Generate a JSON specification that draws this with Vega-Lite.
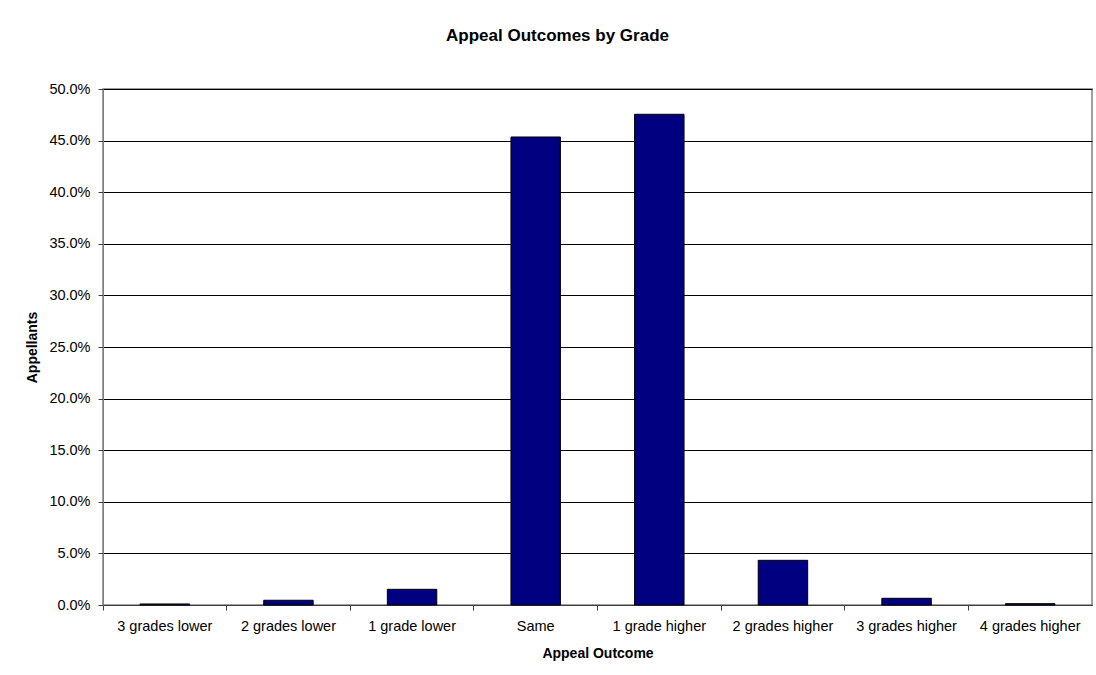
{
  "$schema": "https://vega.github.io/schema/vega-lite/v6.json",
  "autosize": "none",
  "width": 989,
  "height": 516,
  "padding": {"left": 103, "top": 89, "right": 4, "bottom": 70},
  "background": "white",
  "title": {
    "text": "Appeal Outcomes by Grade",
    "font": "Liberation Sans",
    "fontSize": 17,
    "fontWeight": "bold",
    "color": "black",
    "anchor": "middle",
    "dx": -40,
    "offset": 36
  },
  "data": {
    "values": [
      {"outcome": "3 grades lower", "share": 0.001},
      {"outcome": "2 grades lower", "share": 0.0046},
      {"outcome": "1 grade lower", "share": 0.0152},
      {"outcome": "Same", "share": 0.4535},
      {"outcome": "1 grade higher", "share": 0.4755},
      {"outcome": "2 grades higher", "share": 0.0433},
      {"outcome": "3 grades higher", "share": 0.0065},
      {"outcome": "4 grades higher", "share": 0.0013}
    ]
  },
  "mark": {"type": "bar", "fill": "#000080", "stroke": "black", "strokeWidth": 1, "width": {"band": 0.4}},
  "encoding": {
    "x": {
      "field": "outcome",
      "type": "nominal",
      "sort": null,
      "scale": {"paddingInner": 0, "paddingOuter": 0},
      "axis": {
        "title": "Appeal Outcome",
        "labelAngle": 0,
        "bandPosition": 0,
        "labelFont": "Liberation Sans",
        "labelFontSize": 14.5,
        "labelColor": "black",
        "labelPadding": 9,
        "titleFont": "Liberation Sans",
        "titleFontSize": 14,
        "titleFontWeight": "bold",
        "titleColor": "black",
        "titlePadding": 14,
        "domainColor": "#404040",
        "tickColor": "#404040",
        "tickSize": 5,
        "grid": false
      }
    },
    "y": {
      "field": "share",
      "type": "quantitative",
      "scale": {"domain": [0, 0.5], "nice": false},
      "axis": {
        "title": "Appellants",
        "format": ".1%",
        "values": [0, 0.05, 0.1, 0.15, 0.2, 0.25, 0.3, 0.35, 0.4, 0.45, 0.5],
        "labelFont": "Liberation Sans",
        "labelFontSize": 14.5,
        "labelColor": "black",
        "labelPadding": 8,
        "titleFont": "Liberation Sans",
        "titleFontSize": 14,
        "titleFontWeight": "bold",
        "titleColor": "black",
        "titlePadding": 9,
        "domainColor": "#808080",
        "tickColor": "#404040",
        "tickSize": 5,
        "grid": true,
        "gridColor": "black",
        "gridOpacity": 1,
        "gridWidth": 1
      }
    }
  },
  "config": {
    "view": {"stroke": "#808080", "strokeWidth": 1.5}
  }
}
